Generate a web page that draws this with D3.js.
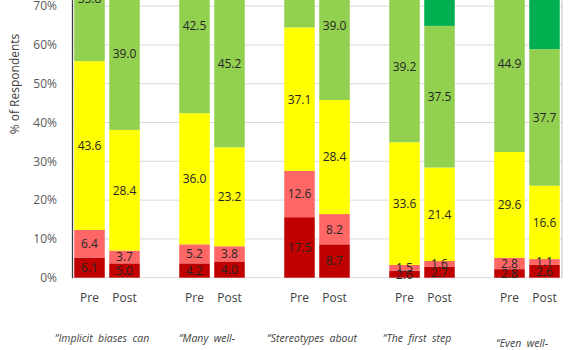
<!DOCTYPE html>
<html lang="en">
<head>
    <meta charset="utf-8">
    <title>Pre / Post</title>
    <script src="https://d3js.org/d3.v7.min.js"></script>
    <style>
        body { margin: 0; background: #fff; }
        text { font-family: "Open Sans", "Noto Sans", sans-serif; }
    </style>
</head>
<body>
<svg width="570" height="350"></svg>
<script>
    // groups (statements) and the two bars in each
    var groups = ["g1", "g2", "g3", "g4", "g5"];
    var statements = ["\u201CImplicit  biases  can", "\u201CMany  well-", "\u201CStereotypes  about", "\u201CThe  first  step", "\u201CEven  well-"];
    var times = ["Pre", "Post"];
    var colors = ["#C00000", "#FF6666", "#FFFF00", "#92D050", "#00B050"];

    // segment heights (% of respondents), bottom to top
    var pre  = [
        [5.2, 7.1, 43.5, 32.4, 11.8],
        [3.7, 4.9, 33.8, 45.2, 12.4],
        [15.6, 11.9, 37.0, 24.0, 11.5],
        [1.8, 1.5, 31.6, 39.0, 26.1],
        [2.2, 2.9, 27.3, 45.7, 21.9]
    ];
    var post = [
        [3.7, 3.3, 31.1, 39.2, 22.7],
        [4.2, 3.9, 25.5, 43.1, 23.3],
        [8.6, 7.8, 29.4, 38.3, 15.9],
        [2.8, 1.5, 24.1, 36.5, 35.1],
        [3.3, 1.5, 18.9, 35.2, 41.1]
    ];
    // data label text printed in the segments (null = above the visible area)
    var preLabels = [
        ["6.1", "6.4", "43.6", "35.8", null],
        ["4.2", "5.2", "36.0", "42.5", null],
        ["17.5", "12.6", "37.1", null, null],
        ["2.6", "1.5", "33.6", "39.2", null],
        ["2.8", "2.8", "29.6", "44.9", null]
    ];
    var postLabels = [
        ["5.0", "3.7", "28.4", "39.0", null],
        ["4.0", "3.8", "23.2", "45.2", null],
        ["8.7", "8.2", "28.4", "39.0", null],
        ["2.7", "1.6", "21.4", "37.5", null],
        ["2.6", "1.1", "16.6", "37.7", null]
    ];
    var yTicks = [0, 10, 20, 30, 40, 50, 60, 70, 80, 90, 100];

    var left = 72, right = 562, zeroY = 277.7, pxPer10 = 38.8;

    var svg = d3.select("svg");

    var y = d3.scaleLinear()
        .domain([0, 100])
        .range([zeroY, zeroY - pxPer10 * 10]);

    // each group takes three slots: Pre, Post, and an empty one
    var x0 = d3.scaleBand()
        .domain(groups)
        .range([left, left + 105 * groups.length]);
    var x1 = d3.scaleBand()
        .domain(times)
        .range([0, 70])
        .paddingInner(0.1286)
        .paddingOuter(0.0643);

    // gridlines
    svg.append("g").selectAll("line")
        .data(yTicks)
        .enter()
        .append("line")
        .attr("x1", left)
        .attr("x2", right)
        .attr("y1", function(d){ return y(d); })
        .attr("y2", function(d){ return y(d); })
        .attr("stroke", "#D9D9D9")
        .attr("stroke-width", 1);

    // build a flat list of segments
    var segs = [];
    groups.forEach(function(g, gi){
        times.forEach(function(t){
            var vals = t === "Pre" ? pre[gi] : post[gi];
            var labs = t === "Pre" ? preLabels[gi] : postLabels[gi];
            var acc = 0;
            vals.forEach(function(v, li){
                segs.push({g: g, t: t, y0: acc, y1: acc + v, color: colors[li], label: labs[li]});
                acc += v;
            });
        });
    });

    var bars = svg.append("g");
    bars.selectAll("rect")
        .data(segs)
        .enter()
        .append("rect")
        .attr("x", function(d){ return x0(d.g) + x1(d.t); })
        .attr("width", x1.bandwidth())
        .attr("y", function(d){ return y(d.y1); })
        .attr("height", function(d){ return y(d.y0) - y(d.y1); })
        .attr("fill", function(d){ return d.color; });

    bars.selectAll("text")
        .data(segs.filter(function(d){ return d.label !== null; }))
        .enter()
        .append("text")
        .attr("x", function(d){ return x0(d.g) + x1(d.t) + x1.bandwidth() / 2; })
        .attr("y", function(d){ return y((d.y0 + d.y1) / 2); })
        .attr("dy", "0.36em")
        .attr("text-anchor", "middle")
        .attr("font-size", 12)
        .attr("fill", "#262626")
        .text(function(d){ return d.label; });

    // y axis
    var yAxis = d3.axisLeft(y)
        .tickValues(yTicks)
        .tickSize(0)
        .tickPadding(15)
        .tickFormat(function(d){ return d + "%"; });
    var ga = svg.append("g")
        .attr("transform", "translate(" + left + ",0)")
        .call(yAxis);
    ga.select(".domain").attr("stroke", "#404040").attr("stroke-width", 1.3);
    ga.selectAll("text")
        .attr("font-size", 12)
        .attr("fill", "#595959")
        .attr("font-family", "'Open Sans', sans-serif");

    // right edge of the plot
    svg.append("line")
        .attr("x1", right).attr("x2", right)
        .attr("y1", 0).attr("y2", zeroY)
        .attr("stroke", "#BFBFBF");

    svg.append("text")
        .attr("transform", "translate(19," + 84 + ") rotate(-90)")
        .attr("text-anchor", "middle")
        .attr("font-size", 12)
        .attr("fill", "#404040")
        .text("% of Respondents");

    // Pre / Post labels
    var cat = svg.append("g");
    groups.forEach(function(g){
        times.forEach(function(t){
            cat.append("text")
                .attr("x", x0(g) + x1(t) + x1.bandwidth() / 2)
                .attr("y", 301.5)
                .attr("text-anchor", "middle")
                .attr("font-size", 12)
                .attr("fill", "#404040")
                .text(t);
        });
    });

    // statement labels (first line only fits in view)
    cat.selectAll(".stmt")
        .data(groups)
        .enter()
        .append("text")
        .attr("class", "stmt")
        .attr("x", function(d){ return x0(d) + 35 - 5; })
        .attr("y", function(d, i){ return i === 4 ? 347 : 341.5; })
        .attr("text-anchor", "middle")
        .attr("font-size", 10.5)
        .attr("font-style", "italic")
        .attr("fill", "#404040")
        .style("white-space", "pre")
        .text(function(d, i){ return statements[i]; });
</script>
</body>
</html>
